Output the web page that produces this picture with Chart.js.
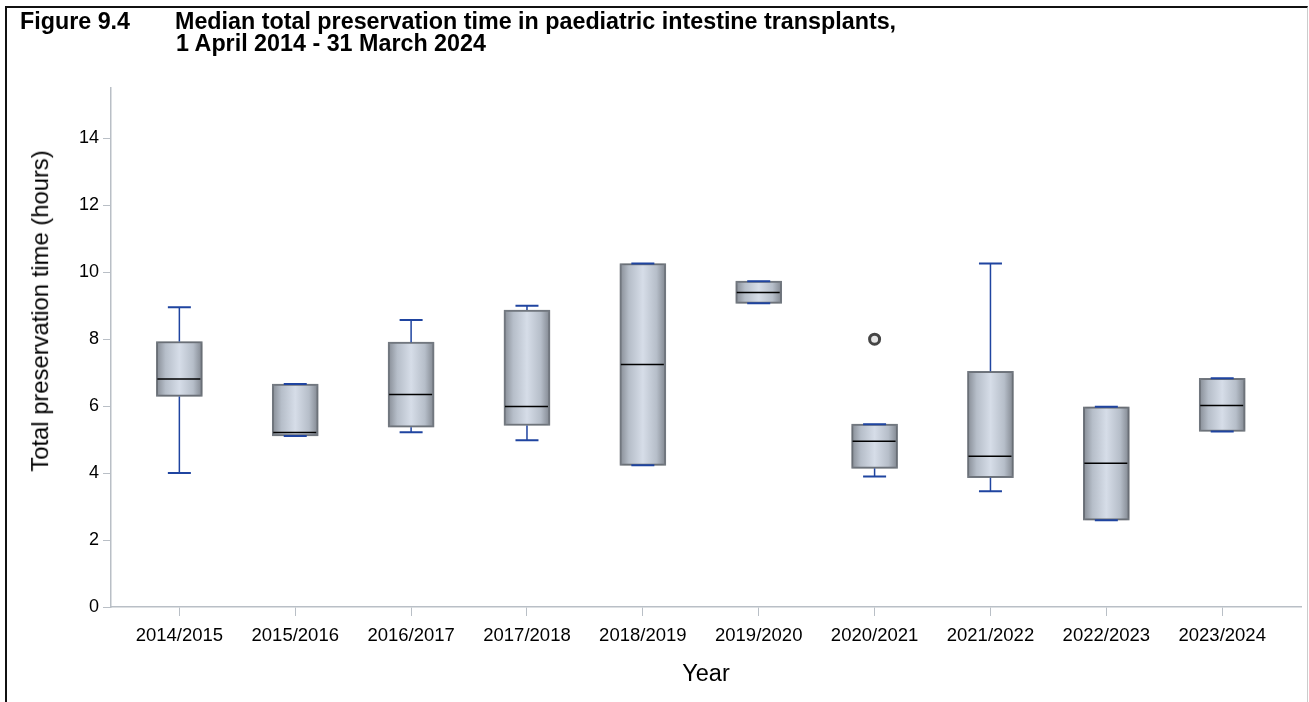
<!DOCTYPE html>
<html>
<head>
<meta charset="utf-8">
<script src="https://cdn.jsdelivr.net/npm/chart.js@4.4.1/dist/chart.umd.min.js"></script>
<style>
  html, body { margin: 0; padding: 0; background: #fff; }
  body { width: 1309px; height: 702px; position: relative; overflow: hidden; font-family: "Liberation Sans", Arial, sans-serif; }
  #frame { position: absolute; left: 5px; top: 6px; width: 1303px; height: 720px; box-sizing: border-box;
           border-left: 2px solid #111; border-top: 2px solid #111; border-right: 1px solid #ccc; }
  .ttl { position: absolute; font-weight: bold; font-size: 23.3px; line-height: 1; color: #000; white-space: nowrap; }
  #ytitle { position: absolute; left: 40px; top: 311px; font-size: 23.8px; line-height: 1; color: #000; white-space: nowrap;
            transform: translate(-50%, -50%) rotate(-90deg); }
  #box { position: absolute; left: 0; top: 0; }
</style>
</head>
<body>
<div id="frame"></div>
<canvas id="box" width="1309" height="702"></canvas>
<div class="ttl" style="left:20px; top:10px">Figure 9.4</div>
<div class="ttl" style="left:175px; top:10px">Median total preservation time in paediatric intestine transplants,</div>
<div class="ttl" style="left:176px; top:32px">1 April 2014 - 31 March 2024</div>
<div id="ytitle">Total preservation time (hours)</div>
<script>
// values (hours)
const years = ['2014/2015', '2015/2016', '2016/2017', '2017/2018', '2018/2019',
               '2019/2020', '2020/2021', '2021/2022', '2022/2023', '2023/2024'];
const lowWhisker  = [4.00, 5.11, 5.22, 4.98, 4.23, 9.07, 3.90, 3.46, 2.59, 5.24];
const q1          = [6.29, 5.11, 5.37, 5.42, 4.23, 9.07, 4.14, 3.86, 2.59, 5.24];
const median      = [6.81, 5.21, 6.35, 5.99, 7.24, 9.39, 4.95, 4.50, 4.29, 6.02];
const q3          = [7.93, 6.66, 7.91, 8.87, 10.26, 9.73, 5.46, 7.04, 5.98, 6.83];
const highWhisker = [8.95, 6.66, 8.57, 9.00, 10.26, 9.73, 5.46, 10.26, 5.98, 6.83];
const outlierYear = [6];
const outlierValue = [8.0];
const yTicks = [0, 2, 4, 6, 8, 10, 12, 14];

const font = 'Liberation Sans, Arial, sans-serif';
const axisGrey = '#b9bfc6';
const boxW = 46;

function boxFill(c) {
    const xs = c.chart.scales.x;
    if (c.dataIndex === undefined || !xs) return '#c4ccd7';
    const cx = xs.getPixelForValue(c.dataIndex);
    if (!isFinite(cx)) return '#c4ccd7';
    const g = c.chart.ctx.createLinearGradient(cx - boxW / 2, 0, cx + boxW / 2, 0);
    g.addColorStop(0, '#868c95');
    g.addColorStop(0.2, '#b6bec9');
    g.addColorStop(0.5, '#d6dde8');
    g.addColorStop(0.8, '#b6bec9');
    g.addColorStop(1, '#80868f');
    return g;
}

// whiskers, caps and medians, placed with the chart's scales
const boxParts = {
    id: 'boxParts',
    beforeDatasetDraw(chart, args) {
        if (args.index !== 0) return;
        chart.ctx.save();
        chart.ctx.shadowColor = 'rgba(0,0,0,0.25)';
        chart.ctx.shadowBlur = 3;
    },
    afterDatasetDraw(chart, args) {
        if (args.index !== 0) return;
        chart.ctx.restore();
        const {ctx, scales: {x, y}} = chart;
        ctx.save();
        years.forEach((_, i) => {
            const cx = x.getPixelForValue(i);
            const capHalf = 11.5;
            ctx.strokeStyle = '#1f44a0';
            ctx.lineWidth = 1.5;
            ctx.beginPath();
            ctx.moveTo(cx, y.getPixelForValue(q3[i]));
            ctx.lineTo(cx, y.getPixelForValue(highWhisker[i]));
            ctx.moveTo(cx, y.getPixelForValue(q1[i]));
            ctx.lineTo(cx, y.getPixelForValue(lowWhisker[i]));
            ctx.stroke();
            ctx.lineWidth = 2;
            ctx.beginPath();
            ctx.moveTo(cx - capHalf, y.getPixelForValue(highWhisker[i]));
            ctx.lineTo(cx + capHalf, y.getPixelForValue(highWhisker[i]));
            ctx.moveTo(cx - capHalf, y.getPixelForValue(lowWhisker[i]));
            ctx.lineTo(cx + capHalf, y.getPixelForValue(lowWhisker[i]));
            ctx.stroke();
            ctx.strokeStyle = '#000';
            ctx.lineWidth = 1.5;
            ctx.beginPath();
            ctx.moveTo(cx - boxW / 2 + 1, y.getPixelForValue(median[i]));
            ctx.lineTo(cx + boxW / 2 - 2, y.getPixelForValue(median[i]));
            ctx.stroke();
        });
        ctx.restore();
    }
};

new Chart(document.getElementById('box'), {
    type: 'bar',
    data: {
        datasets: [{
            type: 'bar',
            data: years.map((_, i) => ({x: i, y: [q1[i], q3[i]]})),
            backgroundColor: boxFill,
            borderColor: '#747a82',
            borderWidth: 2,
            borderSkipped: false,
            barThickness: boxW
        }, {
            type: 'scatter',
            data: outlierYear.map((v, i) => ({x: v, y: outlierValue[i]})),
            pointRadius: 5,
            pointBorderWidth: 3,
            borderColor: '#454545',
            backgroundColor: '#e6e6e6'
        }]
    },
    options: {
        responsive: false,
        animation: false,
        layout: {padding: {top: 88, right: 7, left: 0, bottom: 0}},
        plugins: {legend: {display: false}, tooltip: {enabled: false}},
        scales: {
            x: {
                type: 'linear',
                offset: false,
                min: -0.59,
                max: 9.68,
                afterBuildTicks: s => { s.ticks = years.map((_, i) => ({value: i})); },
                afterFit: s => { s.height = 95; },
                ticks: {
                    callback: v => years[v],
                    color: '#000',
                    font: {family: font, size: 18.5},
                    padding: 9,
                    autoSkip: false,
                    maxRotation: 0
                },
                grid: {offset: false, drawOnChartArea: false, drawTicks: true, tickLength: 9, color: axisGrey},
                border: {color: axisGrey, width: 1.5},
                title: {
                    display: true,
                    text: 'Year',
                    color: '#000',
                    font: {family: font, size: 23.5},
                    padding: {top: 0, bottom: 13}
                }
            },
            y: {
                min: 0,
                max: 15.5,
                afterBuildTicks: s => { s.ticks = yTicks.map(v => ({value: v})); },
                afterFit: s => { s.width = 111; },
                ticks: {color: '#000', font: {family: font, size: 18}, padding: 4},
                grid: {drawOnChartArea: false, drawTicks: true, tickLength: 8, color: axisGrey},
                border: {color: axisGrey, width: 1.5},
                title: {display: false}
            }
        }
    },
    plugins: [boxParts]
});
</script>
</body>
</html>
